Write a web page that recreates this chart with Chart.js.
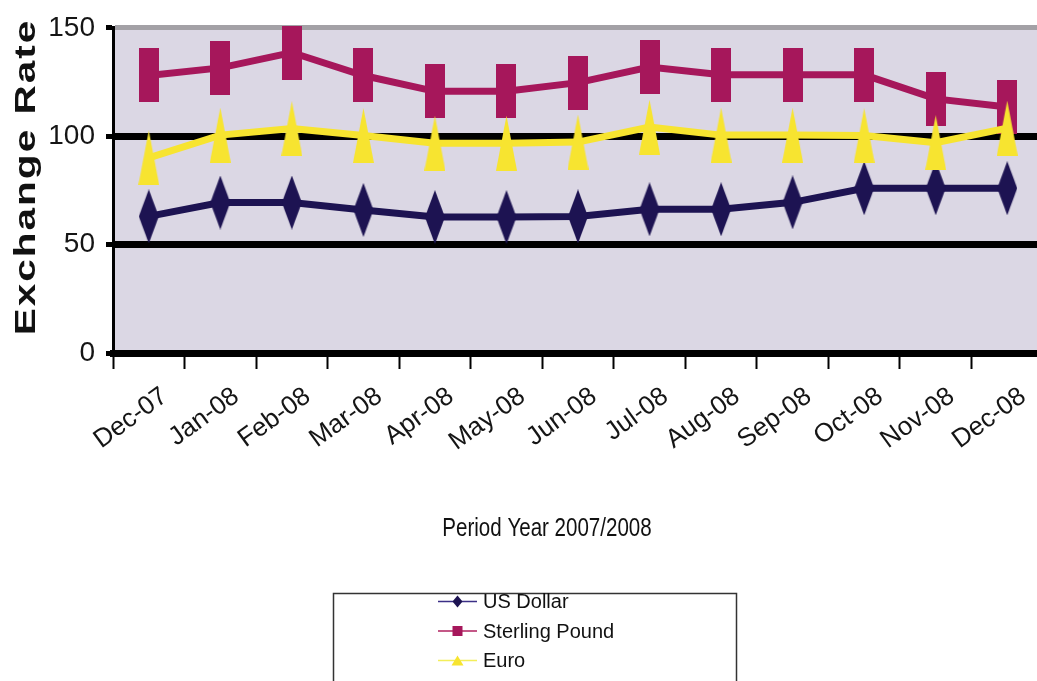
<!DOCTYPE html>
<html><head><meta charset="utf-8">
<script src="https://cdn.jsdelivr.net/npm/chart.js@4"></script>
<style>
html,body{margin:0;padding:0;background:#fff;overflow:hidden;width:1037px;height:681px}
#wrap{position:absolute;left:0;top:0;width:1060px;height:681px}
</style>
</head><body><div id="wrap"><canvas id="c"></canvas></div>
<script>
const categories = ['Dec-07','Jan-08','Feb-08','Mar-08','Apr-08','May-08','Jun-08','Jul-08','Aug-08','Sep-08','Oct-08','Nov-08','Dec-08'];
const usDollar = [63, 69.4, 69.4, 66, 62.7, 62.7, 63, 66.3, 66.3, 69.5, 76, 76, 76];
const sterlingPound = [128, 131.5, 138.6, 128, 120.7, 120.7, 124.7, 131.9, 128.3, 128.3, 128.3, 117.2, 113.5];
const euro = [90, 100.5, 103.5, 100.3, 96.8, 96.8, 97.3, 104.2, 100.5, 100.5, 100.3, 97, 103.7];
const seriesNames = ['US Dollar', 'Sterling Pound', 'Euro'];
const yTickValues = [0, 50, 100, 150];
const yTitle = 'Exchange Rate';
const xTitle = 'Period Year 2007/2008';

const COL = { usd: '#1d1352', gbp: '#a6175b', eur: '#f7e430' };
const LEG = { usd: '#3b2f86', gbp: '#b0205f', eur: '#f3ee5a' };
const FONT = "'Liberation Sans', Arial, sans-serif";

function marker(shape, w, h, color) {
  const c = document.createElement('canvas');
  c.width = w; c.height = h;
  const g = c.getContext('2d');
  g.fillStyle = color;
  g.beginPath();
  if (shape === 'rect') g.rect(0, 0, w, h);
  else if (shape === 'diamond') { g.moveTo(w/2, 0); g.lineTo(w, h/2); g.lineTo(w/2, h); g.lineTo(0, h/2); g.closePath(); }
  else { g.moveTo(w/2, 0); g.lineTo(w, h); g.lineTo(0, h); g.closePath(); }
  g.fill();
  return c;
}

function smallShape(ctx, shape, x, y, s, color) {
  ctx.fillStyle = color;
  ctx.beginPath();
  if (shape === 'rect') ctx.rect(x - s/2, y - s/2, s, s);
  else if (shape === 'diamond') { ctx.moveTo(x, y - s/2 - 1); ctx.lineTo(x + s/2, y); ctx.lineTo(x, y + s/2 + 1); ctx.lineTo(x - s/2, y); ctx.closePath(); }
  else { ctx.moveTo(x, y - s/2); ctx.lineTo(x + s/2 + 1, y + s/2); ctx.lineTo(x - s/2 - 1, y + s/2); ctx.closePath(); }
  ctx.fill();
}

const bgPlugin = {
  id: 'bg',
  beforeDraw(chart) {
    const a = chart.chartArea, ctx = chart.ctx;
    ctx.save();
    ctx.fillStyle = '#dbd7e4';
    ctx.fillRect(a.left, a.top, a.right - a.left, a.bottom - a.top);
    ctx.restore();
  }
};

const decoPlugin = {
  id: 'deco',
  afterDraw(chart) {
    const ctx = chart.ctx;
    // y title
    ctx.save();
    ctx.translate(35, 177);
    ctx.rotate(-Math.PI / 2);
    ctx.scale(1.35, 1);
    ctx.font = 'bold 30px ' + FONT;
    try { ctx.letterSpacing = '1.5px'; } catch (e) {}
    ctx.fillStyle = '#111';
    ctx.textAlign = 'center';
    ctx.textBaseline = 'alphabetic';
    ctx.fillText(yTitle, 0, 0);
    ctx.restore();
    // x title
    ctx.save();
    ctx.translate(547, 536);
    ctx.scale(0.79, 1);
    ctx.font = '26px ' + FONT;
    ctx.fillStyle = '#111';
    ctx.textAlign = 'center';
    ctx.textBaseline = 'alphabetic';
    ctx.fillText(xTitle, 0, 0);
    ctx.restore();
    // legend
    ctx.save();
    ctx.strokeStyle = '#333';
    ctx.lineWidth = 1.5;
    ctx.strokeRect(333.5, 593.5, 403, 120);
    ctx.font = '20px ' + FONT;
    ctx.textAlign = 'left';
    ctx.textBaseline = 'middle';
    chart.data.datasets.forEach((ds, i) => {
      const y = 601.5 + i * 29.5;
      ctx.strokeStyle = ds.legendColor;
      ctx.lineWidth = 1.6;
      ctx.beginPath(); ctx.moveTo(438, y); ctx.lineTo(477, y); ctx.stroke();
      smallShape(ctx, ds.legendShape, 457.5, y, 10, ds.legendMarker);
      ctx.fillStyle = '#111';
      ctx.fillText(ds.label, 483, y + 1);
    });
    ctx.restore();
  }
};

new Chart(document.getElementById('c'), {
  type: 'line',
  data: {
    labels: categories,
    datasets: [
      { label: seriesNames[0], data: usDollar, borderColor: COL.usd, backgroundColor: COL.usd, borderWidth: 7,
        pointStyle: marker('diamond', 20, 54, COL.usd), pointRadius: 10, order: 2, clip: false,
        legendColor: LEG.usd, legendMarker: COL.usd, legendShape: 'diamond' },
      { label: seriesNames[1], data: sterlingPound, borderColor: COL.gbp, backgroundColor: COL.gbp, borderWidth: 7,
        pointStyle: marker('rect', 20, 54, COL.gbp), pointRadius: 10, order: 1, clip: false,
        legendColor: LEG.gbp, legendMarker: COL.gbp, legendShape: 'rect' },
      { label: seriesNames[2], data: euro, borderColor: COL.eur, backgroundColor: COL.eur, borderWidth: 7,
        pointStyle: marker('triangle', 21, 55, COL.eur), pointRadius: 10, order: 0, clip: false,
        legendColor: LEG.eur, legendMarker: COL.eur, legendShape: 'triangle' }
    ]
  },
  options: {
    responsive: true,
    maintainAspectRatio: false,
    animation: false,
    devicePixelRatio: 1,
    layout: { padding: { top: 23, right: 15, left: 0, bottom: 0 } },
    plugins: { legend: { display: false }, tooltip: { enabled: false } },
    elements: { line: { tension: 0 } },
    scales: {
      x: {
        offset: true,
        grid: { offset: true, drawOnChartArea: false, drawTicks: true, tickLength: 16, tickWidth: 2, tickColor: '#000' },
        border: { display: true, color: '#000', width: 7 },
        ticks: { minRotation: 36, maxRotation: 36, autoSkip: false, padding: 12, labelOffset: 16,
                 color: '#151515', font: { family: FONT, size: 26 } },
        afterFit(s) { s.height = 328; }
      },
      y: {
        min: 0, max: 150,
        afterBuildTicks(s) { s.ticks = yTickValues.map(v => ({ value: v })); },
        ticks: { padding: 11, color: '#151515', font: { family: FONT, size: 28 } },
        grid: {
          color: c => (c.tick && c.tick.value === 150) ? '#a3a1a6' : '#000',
          lineWidth: c => (c.tick && c.tick.value === 150) ? 5 : 7,
          tickColor: '#000', tickLength: 7, tickWidth: 5
        },
        border: { color: '#000', width: 3 },
        afterFit(s) { s.width = 113; }
      }
    }
  },
  plugins: [bgPlugin, decoPlugin]
});
</script>
</body></html>
